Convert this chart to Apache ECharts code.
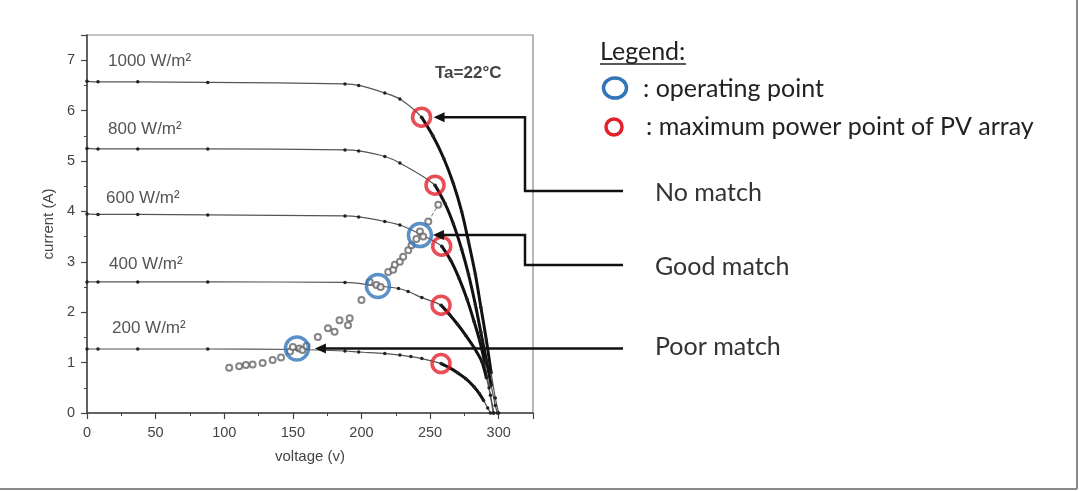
<!DOCTYPE html>
<html>
<head>
<meta charset="utf-8">
<script src="https://cdn.jsdelivr.net/npm/echarts@6/dist/echarts.min.js"></script>
<style>
html, body { margin: 0; padding: 0; background: #fff; }
#chart { width: 1080px; height: 491px; }
</style>
</head>
<body>
<div id="chart"></div>
<script>
// I-V curves, [voltage, current]
var curve1000 = [[0,6.58],[8,6.57],[37,6.57],[88,6.56],[188,6.53],[198,6.50],[217,6.35],[228,6.23],[243.8,5.87],[252,5.5],[260,5.05],[267,4.55],[273,4.0],[278,3.4],[283,2.75],[287,2.1],[291,1.45],[294.5,0.8],[297.5,0.3],[300,0]];
var curve800 = [[0,5.25],[8,5.24],[37,5.24],[88,5.24],[188,5.22],[198,5.20],[217,5.09],[228,4.96],[253.6,4.52],[261,4.15],[267,3.75],[273,3.25],[278,2.75],[283,2.15],[287,1.6],[291,1.05],[294.5,0.55],[297.5,0.15],[299,0]];
var curve600 = [[0,3.95],[8,3.94],[37,3.94],[88,3.93],[188,3.91],[198,3.89],[217,3.80],[228,3.73],[242.6,3.55],[258.5,3.31],[265,3.03],[271,2.68],[277,2.25],[282,1.82],[286,1.45],[290,0.98],[293,0.5],[296,0]];
var curve400 = [[0,2.6],[8,2.6],[37,2.6],[88,2.6],[188,2.59],[212,2.52],[227,2.47],[234,2.41],[244,2.29],[258,2.14],[264,1.96],[270,1.76],[276,1.54],[282,1.3],[287.7,1.02],[291,0.7],[294,0.35],[296.5,0]];
var curve200 = [[0,1.27],[8,1.27],[37,1.27],[88,1.27],[153,1.26],[188,1.23],[198,1.21],[217,1.18],[228,1.15],[236,1.12],[244,1.08],[258,0.98],[264,0.9],[270,0.8],[276,0.68],[282,0.52],[286,0.38],[289,0.25],[292,0.1],[294,0]];
var curveLabels = ['1000 W/m²', '800 W/m²', '600 W/m²', '400 W/m²', '200 W/m²'];

var operatingPoints = [[242.6,3.53],[212,2.52],[153,1.28]];
var mppPoints = [[243.8,5.87],[253.6,4.52],[258.5,3.31],[258,2.14],[258,0.98]];
var loadPoints = [[103.6,0.90],[110.9,0.93],[115.8,0.95],[120.7,0.96],[128,0.99],[135.3,1.05],[141.4,1.10],[148,1.22],[150,1.31],[154.8,1.28],[157,1.25],[160,1.33],[168.2,1.51],[175.6,1.68],[180.4,1.61],[184,1.84],[190.2,1.74],[191.4,1.88],[200,2.24],[206,2.60],[210.9,2.54],[214,2.5],[219.5,2.80],[223.1,2.84],[224.3,2.94],[228,3.0],[230.4,3.10],[234.1,3.23],[236.5,3.33],[240,3.45],[242.6,3.60],[245,3.5],[248.7,3.80],[256,4.13]];
// dotted link between the last load points
var loadTail = [[248.7,3.80],[256,4.13]];

var matchLabels = ['No match', 'Good match', 'Poor match'];

var curves = [curve1000, curve800, curve600, curve400, curve200];
// index of the MPP in each curve, the steep part after it is drawn thick
var mppIndex = [8, 8, 9, 9, 11];

var chart = echarts.init(document.getElementById('chart'));

var series = [];
curves.forEach(function (c, i) {
  series.push({
    name: curveLabels[i],
    type: 'line',
    data: c,
    smooth: 0.3,
    symbol: 'circle',
    symbolSize: 3.5,
    itemStyle: { color: '#222' },
    lineStyle: { color: '#555', width: 1.2 },
    z: 3
  });
  series.push({
    type: 'line',
    data: c.slice(mppIndex[i], c.length - 2),
    smooth: 0.3,
    symbol: 'none',
    lineStyle: { color: '#111', width: 3 },
    z: 3
  });
});
series.push({
  type: 'line',
  data: loadTail,
  symbol: 'none',
  lineStyle: { color: '#777', width: 1, type: 'dashed' },
  z: 4
});
series.push({
  name: 'load',
  type: 'scatter',
  data: loadPoints,
  symbol: 'emptyCircle',
  symbolSize: 6,
  itemStyle: { color: '#666', borderColor: '#666', borderWidth: 1 },
  z: 4
});
series.push({
  name: 'operating point',
  type: 'scatter',
  data: operatingPoints,
  symbol: 'circle',
  symbolSize: 23,
  itemStyle: { color: 'rgba(0,0,0,0)', borderColor: '#3275b8', borderWidth: 3.5 },
  z: 5
});
series.push({
  name: 'maximum power point',
  type: 'scatter',
  data: mppPoints,
  symbol: 'circle',
  symbolSize: 18,
  itemStyle: { color: 'rgba(0,0,0,0)', borderColor: '#e3202a', borderWidth: 3.5 },
  z: 5
});

var axisCommon = {
  axisLine: { show: true, lineStyle: { color: '#444', width: 1.5 } },
  axisTick: { show: true, inside: false, length: 6, lineStyle: { color: '#444', width: 1.2 } },
  minorTick: { show: true, splitNumber: 2, length: 3, lineStyle: { color: '#444', width: 1 } },
  splitLine: { show: false },
  nameTextStyle: { color: '#444', fontSize: 15, fontFamily: 'Liberation Sans' }
};

chart.setOption({
  animation: false,
  backgroundColor: '#fff',
  grid: {
    left: 87, top: 35, width: 446, height: 378,
    show: true, borderColor: '#888', borderWidth: 1.2,
    containLabel: false, outerBoundsMode: 'none'
  },
  xAxis: Object.assign({}, axisCommon, {
    type: 'value', min: 0, max: 325, interval: 50,
    name: 'voltage (v)', nameLocation: 'middle', nameGap: 36,
    axisLabel: { color: '#444', fontSize: 14.5, fontFamily: 'Liberation Sans', margin: 12, showMaxLabel: false }
  }),
  yAxis: Object.assign({}, axisCommon, {
    type: 'value', min: 0, max: 7.5, interval: 1,
    name: 'current (A)', nameLocation: 'middle', nameGap: 31,
    axisLabel: { color: '#444', fontSize: 14.5, fontFamily: 'Liberation Sans', margin: 12, showMaxLabel: false }
  }),
  series: series
});

// annotations: curve labels, legend, match arrows
var g = [];
var labelPos = [[108, 61], [108, 129], [106, 198], [109, 264], [112, 328]];
curveLabels.forEach(function (t, i) {
  g.push({ type: 'text', x: labelPos[i][0], y: labelPos[i][1],
    style: { text: t, fill: '#555', font: '17px "Liberation Sans"', verticalAlign: 'middle' } });
});
g.push({ type: 'text', x: 435, y: 73,
  style: { text: 'Ta=22°C', fill: '#444', font: 'bold 17px "Liberation Sans"', verticalAlign: 'middle' } });

var legendFont = '25px Lato';
g.push({ type: 'text', x: 600, y: 52, style: { text: 'Legend:', fill: '#222', font: legendFont, verticalAlign: 'middle' } });
g.push({ type: 'line', shape: { x1: 600, y1: 64, x2: 686, y2: 64 }, style: { stroke: '#222', lineWidth: 1.5 } });
g.push({ type: 'ellipse', shape: { cx: 615, cy: 88, rx: 11.5, ry: 10 }, style: { fill: 'none', stroke: '#3275b8', lineWidth: 3.5 } });
g.push({ type: 'text', x: 643, y: 89, style: { text: ': operating point', fill: '#222', font: legendFont, verticalAlign: 'middle' } });
g.push({ type: 'circle', shape: { cx: 614, cy: 127, r: 8 }, style: { fill: 'none', stroke: '#e3202a', lineWidth: 3.5 } });
g.push({ type: 'text', x: 646, y: 127, style: { text: ': maximum power point of PV array', fill: '#222', font: legendFont, verticalAlign: 'middle' } });

var matchY = [193, 267, 347];
var targets = [[mppPoints[0], 12], [operatingPoints[0], 13], [operatingPoints[2], 18]];
var elbowX = 525, lineEndX = 623;
targets.forEach(function (t, i) {
  var p = chart.convertToPixel({ gridIndex: 0 }, t[0]);
  var tipX = p[0] + t[1], tipY = p[1];
  var pts = i === 2
    ? [[lineEndX, tipY], [tipX + 9, tipY]]
    : [[lineEndX, matchY[i] - 2], [elbowX, matchY[i] - 2], [elbowX, tipY], [tipX + 9, tipY]];
  g.push({ type: 'polyline', shape: { points: pts }, style: { stroke: '#111', lineWidth: 2.5, fill: 'none' }, z: 10 });
  g.push({ type: 'polygon', shape: { points: [[tipX, tipY], [tipX + 11, tipY - 5], [tipX + 11, tipY + 5]] }, style: { fill: '#111' }, z: 10 });
  g.push({ type: 'text', x: 655, y: matchY[i], style: { text: matchLabels[i], fill: '#333', font: legendFont, verticalAlign: 'middle' } });
});

// picture frame shadow on right and bottom
g.push({ type: 'line', shape: { x1: 1077, y1: 0, x2: 1077, y2: 489 }, style: { stroke: '#8a8a8a', lineWidth: 2 } });
g.push({ type: 'line', shape: { x1: 0, y1: 489, x2: 1077, y2: 489 }, style: { stroke: '#8a8a8a', lineWidth: 2 } });

chart.setOption({ graphic: g });
</script>
</body>
</html>
